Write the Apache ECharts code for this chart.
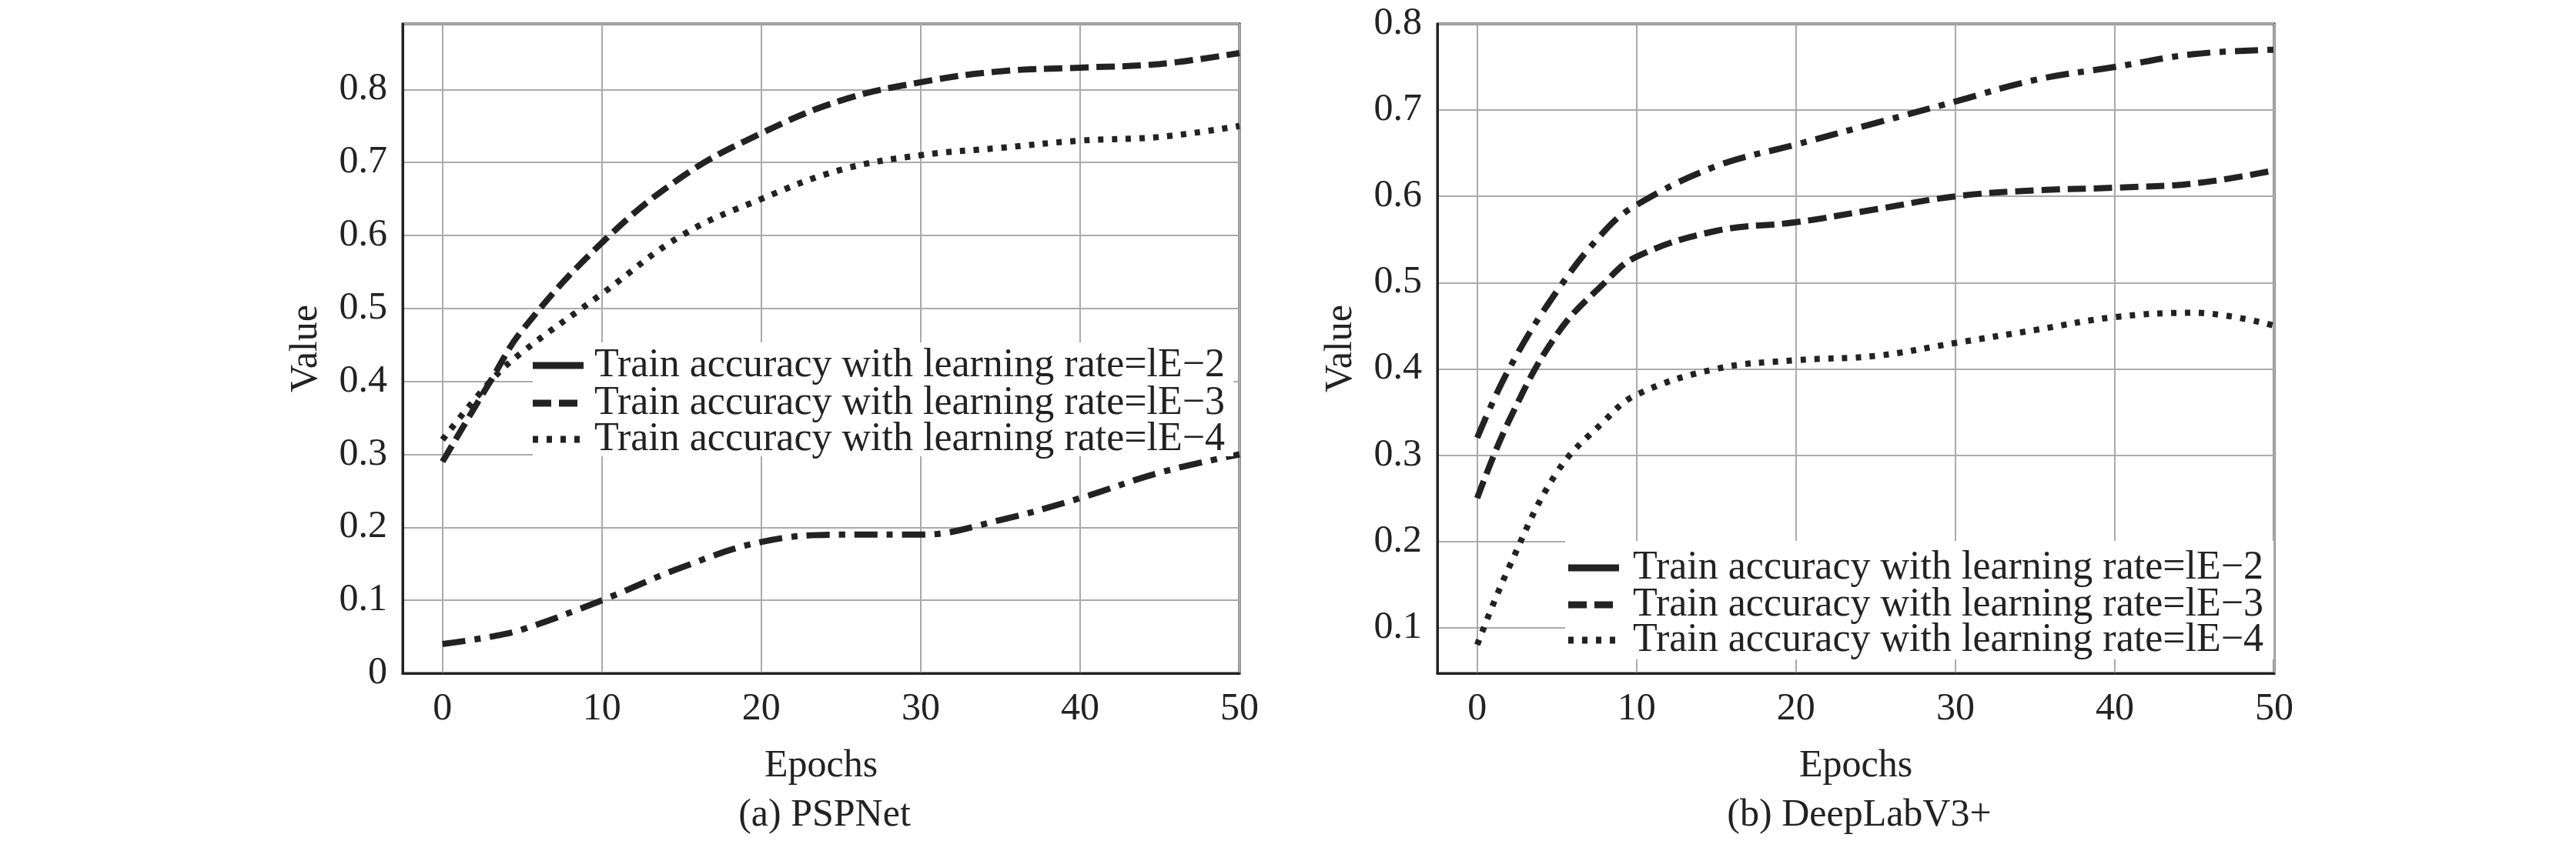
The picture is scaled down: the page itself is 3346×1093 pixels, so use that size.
<!DOCTYPE html>
<html lang="en">
<head>
<meta charset="UTF-8">
<title>Train accuracy</title>
<script src="https://cdn.jsdelivr.net/npm/echarts@6/dist/echarts.min.js"></script>
</head>
<body style="margin:0;background:#fff">
<div id="main" style="width:3346px;height:1093px"></div>
<script>
    // legend labels
    let names = ['Train accuracy with learning rate=lE\u22122', 'Train accuracy with learning rate=lE\u22123', 'Train accuracy with learning rate=lE\u22124'];

    // (a) PSPNet
    let pspEpochs = [0, 3, 5, 10, 15, 20, 25, 30, 35, 40, 45, 50];
    let psp2 = [0.04, 0.05, 0.06, 0.1, 0.145, 0.18, 0.19, 0.19, 0.21, 0.24, 0.275, 0.3];
    let psp3 = [0.29, 0.4, 0.47, 0.59, 0.68, 0.74, 0.785, 0.81, 0.825, 0.83, 0.835, 0.85];
    let psp4 = [0.32, 0.4, 0.44, 0.52, 0.6, 0.65, 0.69, 0.71, 0.72, 0.73, 0.735, 0.75];

    // (b) DeepLabV3+
    let dlEpochs = [0, 2, 5, 8, 10, 15, 20, 25, 30, 35, 40, 45, 50];
    let dl2 = [0.32, 0.4, 0.49, 0.56, 0.59, 0.635, 0.66, 0.685, 0.71, 0.735, 0.75, 0.765, 0.77];
    let dl3 = [0.25, 0.34, 0.44, 0.5, 0.53, 0.56, 0.57, 0.585, 0.6, 0.607, 0.61, 0.615, 0.63];
    let dl4 = [0.08, 0.17, 0.28, 0.34, 0.37, 0.4, 0.41, 0.415, 0.43, 0.445, 0.46, 0.465, 0.45];

    let font = 'Liberation Serif';
    let dashes = [[30, 12, 8, 12], [24, 10], [7, 11]];

    function pairs(xs, ys) {
        return xs.map(function(x, i) { return [x, ys[i]]; });
    }
    function tickFmt(v) {
        let r = Math.round(v * 10) / 10;
        return Math.abs(r - v) < 1e-6 ? String(r) : '';
    }
    function xFmt(v) {
        return v % 10 === 0 ? String(v) : '';
    }

    let chart = echarts.init(document.getElementById('main'));

    let grids = [
        {left: 523, right: 3346 - 1610, top: 31, bottom: 1093 - 875, show: true, borderColor: '#222', borderWidth: 3},
        {left: 1867, right: 3346 - 2954, top: 31, bottom: 1093 - 875, show: true, borderColor: '#222', borderWidth: 3}
    ];
    let xAxes = [0, 1].map(function(g) {
        return {
            type: 'value', gridIndex: g, min: -2.5, max: 50, splitNumber: 5,
            name: 'Epochs', nameLocation: 'middle', nameGap: 96,
            nameTextStyle: {fontFamily: font, fontSize: 50, color: '#222'},
            axisLine: {show: true, onZero: false, lineStyle: {color: '#222', width: 3}},
            axisTick: {show: false},
            axisLabel: {fontFamily: font, fontSize: 50, color: '#222', margin: 22, formatter: xFmt},
            splitLine: {show: true, lineStyle: {color: '#aaa', width: 2}}
        };
    });
    let yAxes = [
        {min: 0, max: 0.89, nameGap: 100},
        {min: 0.047, max: 0.8, nameGap: 100}
    ].map(function(c, g) {
        return {
            type: 'value', gridIndex: g, min: c.min, max: c.max, splitNumber: 8,
            name: 'Value', nameLocation: 'middle', nameGap: c.nameGap,
            nameTextStyle: {fontFamily: font, fontSize: 50, color: '#222'},
            axisLine: {show: true, onZero: false, lineStyle: {color: '#222', width: 3}},
            axisTick: {show: false},
            axisLabel: {fontFamily: font, fontSize: 50, color: '#222', margin: 20, formatter: tickFmt},
            splitLine: {show: true, lineStyle: {color: '#aaa', width: 2}}
        };
    });

    let sets = [[psp2, psp3, psp4], [dl2, dl3, dl4]];
    let xsets = [pspEpochs, dlEpochs];
    let series = [];
    sets.forEach(function(s, g) {
        s.forEach(function(ys, i) {
            series.push({
                name: names[i], type: 'line', xAxisIndex: g, yAxisIndex: g,
                data: pairs(xsets[g], ys), smooth: 0.4, showSymbol: false,
                lineStyle: {color: '#222', width: 8, type: dashes[i], cap: 'butt'},
                itemStyle: {color: '#222'}
            });
        });
    });

    // legend boxes: white box, line sample (solid / dash / dot) and label per row
    let legendBoxes = [
        {x: 692, y: 445, w: 910, h: 148, rows: [475, 524, 571], iconX: 692, textX: 772},
        {x: 2033, y: 703, w: 920, h: 154, rows: [738, 786, 832], iconX: 2037, textX: 2121}
    ];
    let iconDash = [null, [24, 10], [7, 11]];
    let graphics = [];
    legendBoxes.forEach(function(b) {
        graphics.push({type: 'rect', z: 50, shape: {x: b.x, y: b.y, width: b.w, height: b.h}, style: {fill: '#fff'}});
        names.forEach(function(n, i) {
            graphics.push({type: 'line', z: 52,
                shape: {x1: b.iconX, y1: b.rows[i], x2: b.iconX + 66, y2: b.rows[i]},
                style: {stroke: '#222', lineWidth: 9, lineDash: iconDash[i]}});
            graphics.push({type: 'text', z: 51, x: b.textX, y: b.rows[i],
                style: {text: n, font: '52px "' + font + '"', fill: '#222', verticalAlign: 'middle'}});
        });
    });

    chart.setOption({
        animation: false,
        title: [
            {text: '(a) PSPNet', left: 1066, top: 1030, textAlign: 'center', textStyle: {fontFamily: font, fontSize: 50, fontWeight: 'normal', color: '#222'}},
            {text: '(b) DeepLabV3+', left: 2410, top: 1030, textAlign: 'center', textStyle: {fontFamily: font, fontSize: 50, fontWeight: 'normal', color: '#222'}}
        ],
        grid: grids,
        xAxis: xAxes,
        yAxis: yAxes,
        graphic: graphics,
        series: series
    });
</script>
</body>
</html>
